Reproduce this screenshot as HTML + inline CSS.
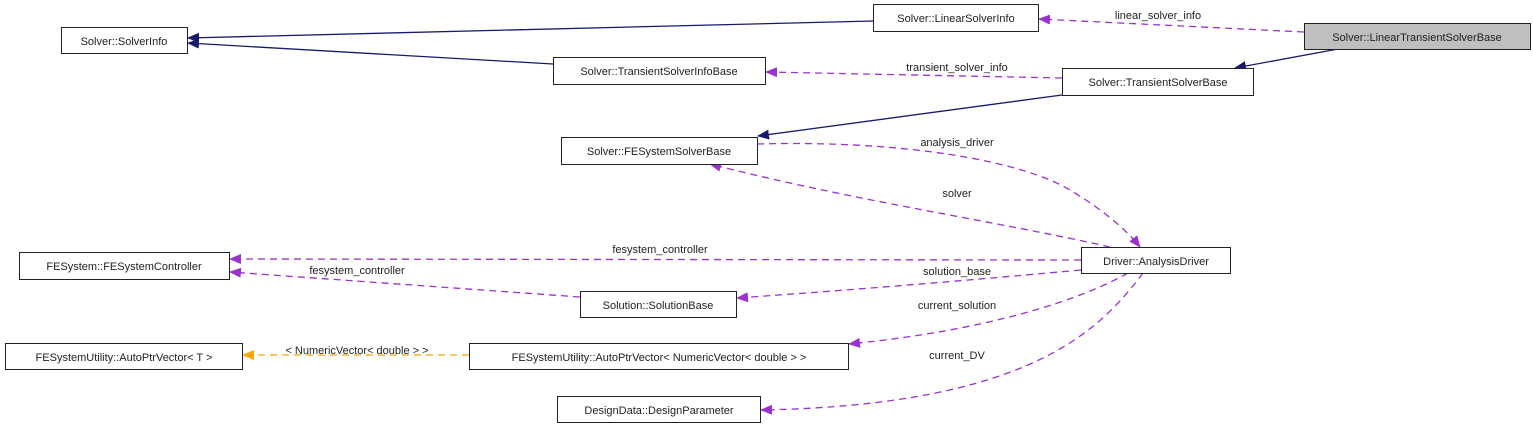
<!DOCTYPE html>
<html><head><meta charset="utf-8"><style>
html,body{margin:0;padding:0;background:#fff;}
svg{display:block;}
text{font-family:"Liberation Sans",Arial,sans-serif;font-size:11px;fill:#222;}
.n{text-anchor:middle;}
</style></head><body>
<svg width="1533" height="428" viewBox="0 0 1533 428" xmlns="http://www.w3.org/2000/svg">
<defs>
<marker id="ab" markerWidth="12" markerHeight="10" refX="11" refY="5" orient="auto" markerUnits="userSpaceOnUse"><path d="M0,0 L12,5 L0,10 z" fill="#191970"/></marker>
<marker id="ap" markerWidth="12" markerHeight="10" refX="11" refY="5" orient="auto" markerUnits="userSpaceOnUse"><path d="M0,0 L12,5 L0,10 z" fill="#9a32cd"/></marker>
<marker id="ao" markerWidth="12" markerHeight="10" refX="11" refY="5" orient="auto" markerUnits="userSpaceOnUse"><path d="M0,0 L12,5 L0,10 z" fill="#ffa500"/></marker>
</defs>
<g fill="none" stroke-width="1.3">
<!-- inheritance -->
<path d="M873,21 L188,38" stroke="#191970" marker-end="url(#ab)"/>
<path d="M553,64 L188,43" stroke="#191970" marker-end="url(#ab)"/>
<path d="M1338,49 L1235,68" stroke="#191970" marker-end="url(#ab)"/>
<path d="M1062,95 L758,136" stroke="#191970" marker-end="url(#ab)"/>
<!-- usage -->
<g stroke="#9a32cd" stroke-dasharray="7,5">
<path d="M1304,32 L1039,19" marker-end="url(#ap)"/>
<path d="M1062,78 L766,72" marker-end="url(#ap)"/>
<path d="M757,144 C900,140 1020,160 1070,190 C1100,208 1125,228 1140,247" marker-end="url(#ap)"/>
<path d="M1110,247 C1000,222 850,200 710,164" marker-end="url(#ap)"/>
<path d="M1081,260 L230,259" marker-end="url(#ap)"/>
<path d="M580,297 L230,272" marker-end="url(#ap)"/>
<path d="M1081,270 C950,282 850,290 737,298" marker-end="url(#ap)"/>
<path d="M1128,273 C1080,300 990,330 849,344" marker-end="url(#ap)"/>
<path d="M1143,273 C1100,330 1030,405 761,410" marker-end="url(#ap)"/>
</g>
<path d="M469,355 L243,355" stroke="#ffa500" stroke-dasharray="7,5" marker-end="url(#ao)"/>
</g>
<!-- nodes -->
<g stroke-width="1" fill="#fff">
<rect x="61.5" y="27.5" width="126" height="26" stroke="#222"/>
<rect x="873.5" y="4.5" width="165" height="27" stroke="#222"/>
<rect x="1304.5" y="23.5" width="226" height="26" stroke="#222" fill="#bfbfbf"/>
<rect x="553.5" y="57.5" width="212" height="27" stroke="#222"/>
<rect x="1062.5" y="68.5" width="191" height="27" stroke="#222"/>
<rect x="561.5" y="137.5" width="196" height="27" stroke="#222"/>
<rect x="1081.5" y="247.5" width="149" height="26" stroke="#222"/>
<rect x="19.5" y="252.5" width="210" height="27" stroke="#222"/>
<rect x="580.5" y="291.5" width="156" height="26" stroke="#222"/>
<rect x="5.5" y="343.5" width="237" height="26" stroke="#222"/>
<rect x="469.5" y="343.5" width="379" height="26" stroke="#222"/>
<rect x="557.5" y="396.5" width="203" height="26" stroke="#222"/>
</g>
<text class="n" x="124" y="45">Solver::SolverInfo</text>
<text class="n" x="956" y="22">Solver::LinearSolverInfo</text>
<text class="n" x="1417" y="41">Solver::LinearTransientSolverBase</text>
<text class="n" x="659" y="75">Solver::TransientSolverInfoBase</text>
<text class="n" x="1158" y="86">Solver::TransientSolverBase</text>
<text class="n" x="659" y="155">Solver::FESystemSolverBase</text>
<text class="n" x="1156" y="265">Driver::AnalysisDriver</text>
<text class="n" x="124" y="270">FESystem::FESystemController</text>
<text class="n" x="658" y="309">Solution::SolutionBase</text>
<text class="n" x="124" y="361">FESystemUtility::AutoPtrVector&lt; T &gt;</text>
<text class="n" x="659" y="361">FESystemUtility::AutoPtrVector&lt; NumericVector&lt; double &gt; &gt;</text>
<text class="n" x="659" y="414">DesignData::DesignParameter</text>
<!-- edge labels -->
<text class="n" x="1158" y="19">linear_solver_info</text>
<text class="n" x="957" y="71">transient_solver_info</text>
<text class="n" x="957" y="146">analysis_driver</text>
<text class="n" x="957" y="197">solver</text>
<text class="n" x="660" y="253">fesystem_controller</text>
<text class="n" x="357" y="274">fesystem_controller</text>
<text class="n" x="957" y="275">solution_base</text>
<text class="n" x="957" y="309">current_solution</text>
<text class="n" x="957" y="359">current_DV</text>
<text class="n" x="357" y="354">&lt; NumericVector&lt; double &gt; &gt;</text>
</svg>
</body></html>
